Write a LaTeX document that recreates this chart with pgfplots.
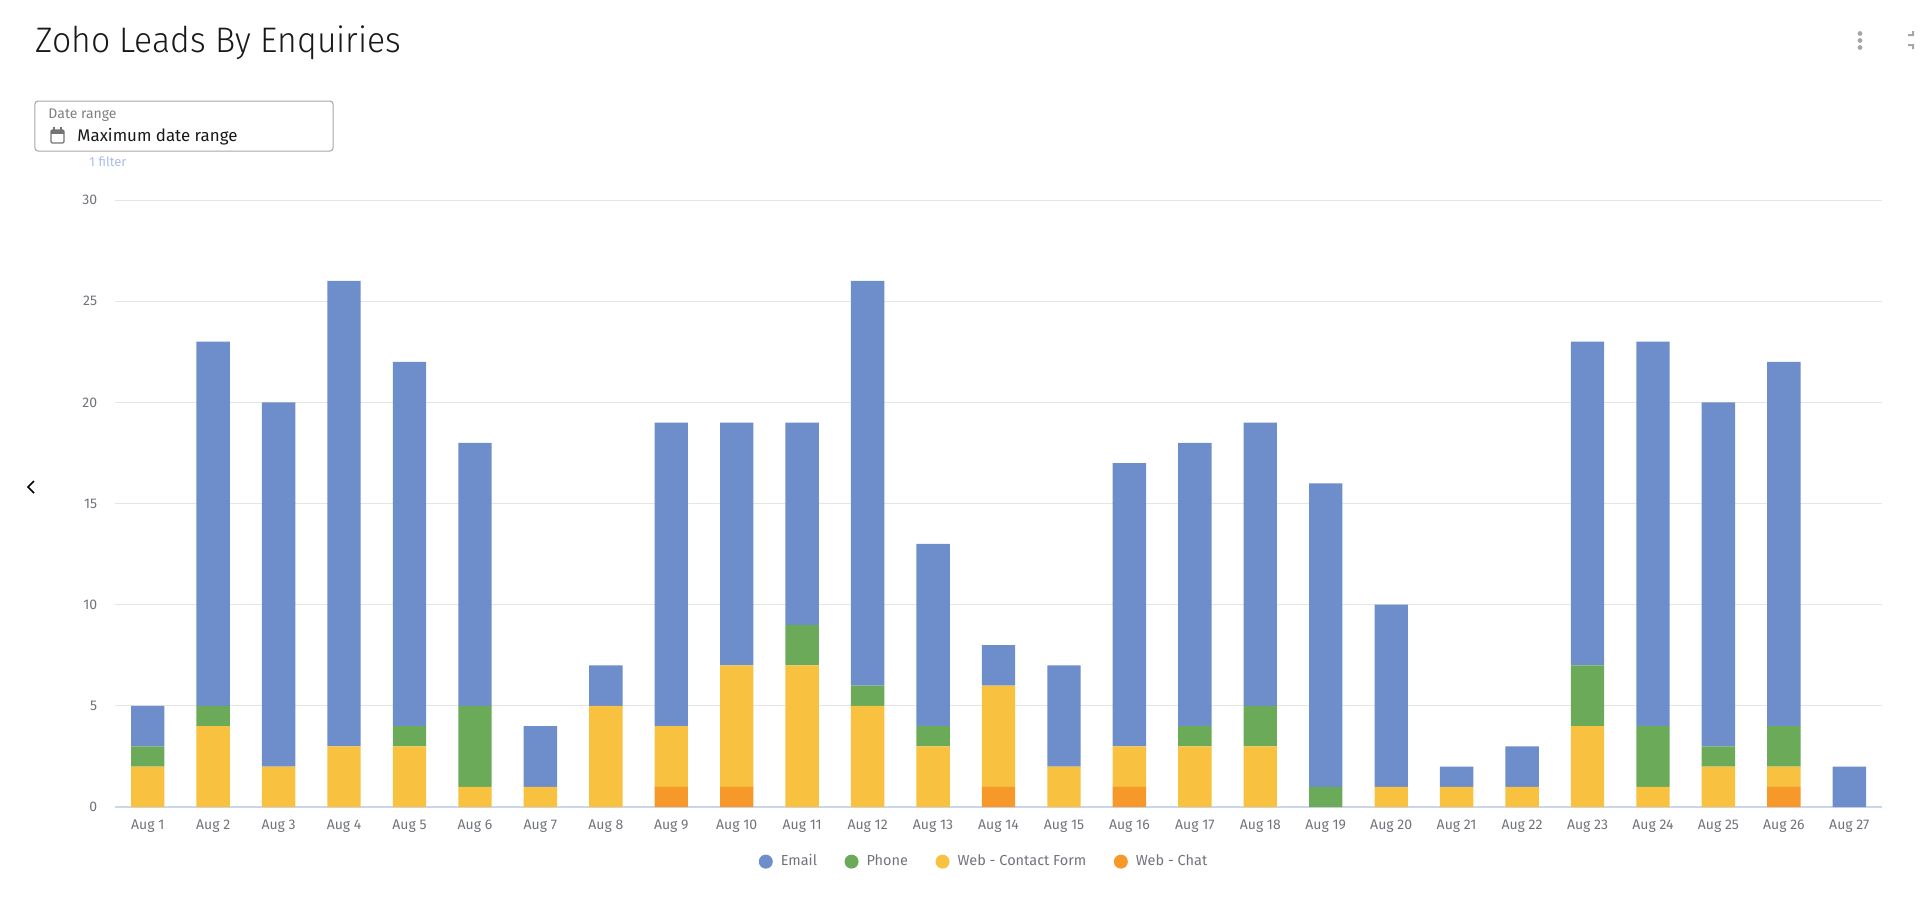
\documentclass[border=0pt]{standalone}
\usepackage{fontspec}
\setmainfont{Fira Sans}
\newfontfamily\lightfont{Fira Sans Light}
\usepackage{pgfplots}
\usepackage{pgfplotstable}
\pgfplotsset{compat=1.18}

\definecolor{cEmail}{HTML}{6D8DCB}
\definecolor{cPhone}{HTML}{6AAA58}
\definecolor{cForm}{HTML}{F8C240}
\definecolor{cChat}{HTML}{F7982A}
\definecolor{tickgray}{HTML}{70737A}
\definecolor{axisblue}{HTML}{CCD6EB}
\definecolor{filterblue}{HTML}{A9BCE8}

% one reference pixel = 0.4pt
\pgfplotstableread{
day chat form phone email
0  0 2 1 2
1  0 4 1 18
2  0 2 0 18
3  0 3 0 23
4  0 3 1 18
5  0 1 4 13
6  0 1 0 3
7  0 5 0 2
8  1 3 0 15
9  1 6 0 12
10 0 7 2 10
11 0 5 1 20
12 0 3 1 9
13 1 5 0 2
14 0 2 0 5
15 1 2 0 14
16 0 3 1 14
17 0 3 2 14
18 0 0 1 15
19 0 1 0 9
20 0 1 0 1
21 0 1 0 2
22 0 4 3 16
23 0 1 3 19
24 0 2 1 17
25 1 1 2 18
26 0 0 0 2
}\leads

\begin{document}
\begin{tikzpicture}
\begin{axis}[
    at={(0,0)}, anchor=south west,
    scale only axis,
    width=706.8pt, height=242.8pt,
    ybar stacked, bar width=0.51,
    xmin=-0.5, xmax=26.5, ymin=0, ymax=30,
    axis x line=bottom, axis y line=left,
    x axis line style={-, draw=axisblue, line width=0.5pt},
    y axis line style={draw=none},
    ytick={0,5,...,30},
    xtick=data,
    xticklabels={Aug 1,Aug 2,Aug 3,Aug 4,Aug 5,Aug 6,Aug 7,Aug 8,Aug 9,Aug 10,Aug 11,Aug 12,Aug 13,Aug 14,Aug 15,Aug 16,Aug 17,Aug 18,Aug 19,Aug 20,Aug 21,Aug 22,Aug 23,Aug 24,Aug 25,Aug 26,Aug 27},
    major tick length=0pt,
    ymajorgrids, grid style={draw=black!10, line width=0.4pt},
    /pgf/number format/assume math mode=true,
    tick label style={font=\fontsize{5.6}{6}\selectfont, text=tickgray},
    x tick label style={yshift=-1.6pt},
    y tick label style={xshift=-3.6pt},
    legend columns=-1,
    reverse legend,
    legend style={draw=none, fill=none, at={(0.3598,-0.09)}, anchor=west,
        font=\fontsize{5.8}{7}\selectfont, text=tickgray,
        /tikz/every even column/.append style={column sep=9pt},
        /tikz/every odd column/.append style={column sep=1.2pt}},
    legend image code/.code={\fill[#1] (0pt,0pt) circle (2.8pt);},
]
\addplot+[draw=none, fill=cChat] table[x=day, y=chat] {\leads};
\addplot+[draw=none, fill=cForm] table[x=day, y=form] {\leads};
\addplot+[draw=none, fill=cPhone] table[x=day, y=phone] {\leads};
\addplot+[draw=none, fill=cEmail] table[x=day, y=email] {\leads};
\legend{Web - Chat, Web - Contact Form, Phone, Email}
\end{axis}
% dashboard furniture, in pixels of the reference
\begin{scope}[x=0.4pt, y=-0.4pt, shift={(-115,-807)}]
\useasboundingbox (0,0) rectangle (1920,903);
\node[anchor=base west, inner sep=0, text=black!90, xscale=0.95] at (35,52) {\lightfont\fontsize{14.2}{16}\selectfont Zoho Leads By Enquiries};
\draw[black!35, line width=0.4pt, rounded corners=1.2pt] (35,101) rectangle (333,151);
\node[anchor=base west, inner sep=0, text=black!50] at (48,118) {\fontsize{5.6}{7}\selectfont Date range};
\node[anchor=base west, inner sep=0, text=black!90] at (77,141) {\fontsize{6.75}{8}\selectfont Maximum date range};
\node[anchor=base west, inner sep=0, text=filterblue] at (89,166) {\fontsize{5.2}{6}\selectfont 1 filter};
\draw[black!55, line width=0.5pt, rounded corners=0.5pt] (51,130) rectangle (64,143);
\fill[black!55] (51,130) rectangle (64,134);
\fill[black!55] (53,127) rectangle (55,130);
\fill[black!55] (60,127) rectangle (62,130);
\draw[black, line width=0.7pt] (34,481) -- (28,487) -- (34,493);
\fill[black!35] (1860,33.5) circle (2.4);
\fill[black!35] (1860,40.5) circle (2.4);
\fill[black!35] (1860,47.5) circle (2.4);
\fill[black!35] (1908,36) -- (1914,36) -- (1914,31) -- (1912,31) -- (1912,34) -- (1908,34) -- cycle;
\fill[black!35] (1908,44) -- (1914,44) -- (1914,49) -- (1912,49) -- (1912,46) -- (1908,46) -- cycle;
\end{scope}
\end{tikzpicture}
\end{document}
